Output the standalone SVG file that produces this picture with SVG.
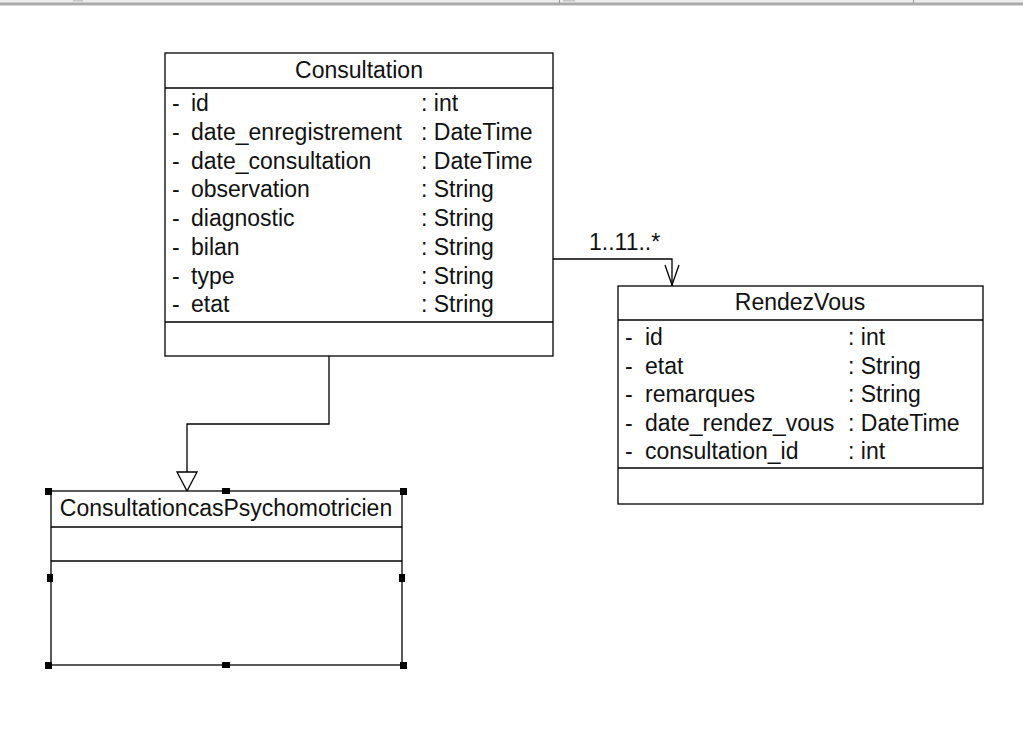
<svg xmlns="http://www.w3.org/2000/svg" width="1023" height="756" viewBox="0 0 1023 756">
<style>
.box{fill:#fff;stroke:#000;stroke-width:1.3}
.ln{stroke:#000;stroke-width:1.3;fill:none}
.t{font-family:"Liberation Sans",Arial,sans-serif;font-size:23px;fill:#111}
.c{text-anchor:middle}
.h{fill:#000}
</style>
<rect x="0" y="0" width="1023" height="756" fill="#fff"/>
<g id="topbar">
<rect x="0" y="0" width="1023" height="2.5" fill="#ececec"/>
<rect x="0" y="2.5" width="1023" height="1" fill="#a8a8a8"/>
<rect x="0" y="3.5" width="1023" height="1.2" fill="#7c7c7c"/>
<rect x="0" y="4.7" width="1023" height="1" fill="#c8c8c8"/>
<rect x="73" y="0" width="10" height="1.5" fill="#c8c8c8"/>
<rect x="563" y="0" width="12" height="1.5" fill="#c8c8c8"/>
<rect x="559" y="0" width="1" height="3" fill="#999"/>
<rect x="913" y="0" width="1" height="3" fill="#999"/>
</g>
<g id="connectors">
<polyline class="ln" points="553,259 672,259 672,286"/>
<polyline class="ln" points="665,265 672,285 679,265"/>
<text class="t" x="589" y="250" font-size="21">1..11..*</text>
<polyline class="ln" points="329,356 329,424 187,424 187,472"/>
<polygon class="box" points="177,472 197,472 187,491"/>
</g>
<g id="Consultation">
<rect class="box" x="165" y="53" width="388" height="303"/>
<line class="ln" x1="165" y1="88" x2="553" y2="88"/>
<line class="ln" x1="165" y1="322" x2="553" y2="322"/>
<text class="t c" x="359" y="78">Consultation</text>
<g class="t">
<text x="172" y="111">-</text><text x="191" y="111">id</text><text x="421" y="111">: int</text>
<text x="172" y="140">-</text><text x="191" y="140">date_enregistrement</text><text x="421" y="140">: DateTime</text>
<text x="172" y="169">-</text><text x="191" y="169">date_consultation</text><text x="421" y="169">: DateTime</text>
<text x="172" y="197">-</text><text x="191" y="197">observation</text><text x="421" y="197">: String</text>
<text x="172" y="226">-</text><text x="191" y="226">diagnostic</text><text x="421" y="226">: String</text>
<text x="172" y="255">-</text><text x="191" y="255">bilan</text><text x="421" y="255">: String</text>
<text x="172" y="284">-</text><text x="191" y="284">type</text><text x="421" y="284">: String</text>
<text x="172" y="312">-</text><text x="191" y="312">etat</text><text x="421" y="312">: String</text>
</g>
</g>
<g id="RendezVous">
<rect class="box" x="618" y="286" width="365" height="218"/>
<line class="ln" x1="618" y1="320" x2="983" y2="320"/>
<line class="ln" x1="618" y1="468" x2="983" y2="468"/>
<text class="t c" x="800" y="310">RendezVous</text>
<g class="t">
<text x="625" y="345">-</text><text x="645" y="345">id</text><text x="848" y="345">: int</text>
<text x="625" y="374">-</text><text x="645" y="374">etat</text><text x="848" y="374">: String</text>
<text x="625" y="402">-</text><text x="645" y="402">remarques</text><text x="848" y="402">: String</text>
<text x="625" y="431">-</text><text x="645" y="431">date_rendez_vous</text><text x="848" y="431">: DateTime</text>
<text x="625" y="459">-</text><text x="645" y="459">consultation_id</text><text x="848" y="459">: int</text>
</g>
</g>
<g id="ConsultationcasPsychomotricien">
<rect class="box" x="51" y="491" width="351" height="174"/>
<line class="ln" x1="51" y1="527" x2="402" y2="527"/>
<line class="ln" x1="51" y1="561" x2="402" y2="561"/>
<text class="t c" x="226" y="516" fill="#1a1a40">ConsultationcasPsychomotricien</text>
<rect class="h" x="45" y="488" width="7" height="7"/>
<rect class="h" x="400" y="488" width="7" height="7"/>
<rect class="h" x="45" y="662" width="7" height="7"/>
<rect class="h" x="400" y="662" width="7" height="7"/>
<rect class="h" x="222" y="488" width="8" height="6"/>
<rect class="h" x="222" y="662" width="8" height="6"/>
<rect class="h" x="47" y="574" width="6" height="8"/>
<rect class="h" x="399" y="574" width="6" height="8"/>
</g>
</svg>
